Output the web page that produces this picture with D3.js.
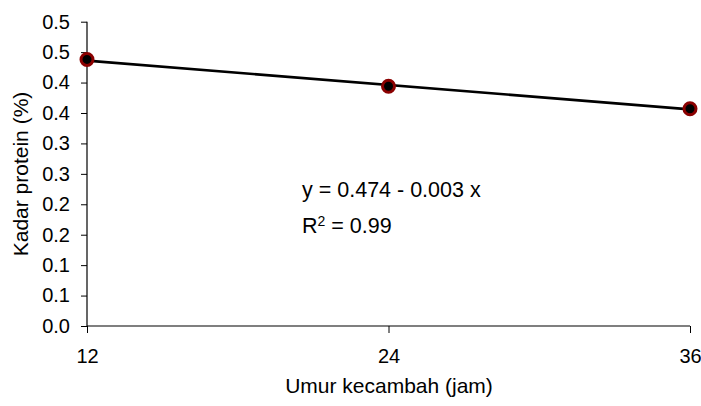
<!DOCTYPE html>
<html><head><meta charset="utf-8">
<script src="https://cdn.jsdelivr.net/npm/d3@7"></script>
<style>body{margin:0;background:#fff}svg{display:block;font-family:"Liberation Sans",Arial,sans-serif}</style>
</head><body><svg id="c" width="701" height="406"></svg>
<script>
const hours = [12, 24, 36];
const protein = [0.438, 0.394, 0.357];
const trendX = [12, 36];
const trendY = [0.436, 0.356];
const yTickValues = [0, 0.05, 0.1, 0.15, 0.2, 0.25, 0.3, 0.35, 0.4, 0.45, 0.5];
const yTickLabels = ["0.0","0.1","0.1","0.2","0.2","0.3","0.3","0.4","0.4","0.5","0.5"];
const xTickValues = [12, 24, 36];
const eqText = "y = 0.474 - 0.003 x";
const r2Value = "0.99";

const FONT = "Liberation Sans, Arial, sans-serif";
const svg = d3.select("#c");
const x = d3.scaleLinear().domain([12, 36]).range([87, 690]);
const y = d3.scaleLinear().domain([0, 0.5]).range([326, 21.7]);

const ya = svg.append("g").attr("transform","translate(87,0)")
  .call(d3.axisLeft(y).tickValues(yTickValues).tickSize(6).tickPadding(11)
    .tickFormat((d,i)=>yTickLabels[i]));
const xa = svg.append("g").attr("transform","translate(0,326)")
  .call(d3.axisBottom(x).tickValues(xTickValues).tickSize(7).tickPadding(16));
[ya, xa].forEach(a => {
  a.attr("font-size",20).attr("font-family",FONT);
  a.select(".domain").attr("stroke","#000").attr("stroke-width",1.2);
  a.selectAll(".tick line").attr("stroke","#000").attr("stroke-width",1);
  a.selectAll("text").attr("fill","#000");
});
ya.select(".domain").attr("d","M0,21.7V326");
xa.select(".domain").attr("d","M87,0H690");

svg.append("path")
  .datum(trendX.map((d,i)=>[d,trendY[i]]))
  .attr("d", d3.line().x(d=>x(d[0])).y(d=>y(d[1])))
  .attr("stroke","#000").attr("stroke-width",2.6).attr("fill","none");

svg.append("g").selectAll("circle").data(hours).join("circle")
  .attr("cx", d=>x(d)).attr("cy",(d,i)=>y(protein[i]))
  .attr("r",6).attr("fill","#000").attr("stroke","#8b0000").attr("stroke-width",3);

svg.append("text").attr("x",302).attr("y",197).attr("font-size",21.5).text(eqText);
const r2 = svg.append("text").attr("x",302).attr("y",233).attr("font-size",21.5);
r2.append("tspan").text("R");
r2.append("tspan").attr("dy",-7.5).attr("font-size",14).text("2");
r2.append("tspan").attr("dy",7.5).text(" = " + r2Value);

svg.append("text").attr("x",389).attr("y",393).attr("text-anchor","middle")
  .attr("font-size",21).text("Umur kecambah (jam)");
svg.append("text").attr("transform","translate(28,174) rotate(-90)")
  .attr("text-anchor","middle").attr("font-size",21).text("Kadar protein (%)");
</script></body></html>
